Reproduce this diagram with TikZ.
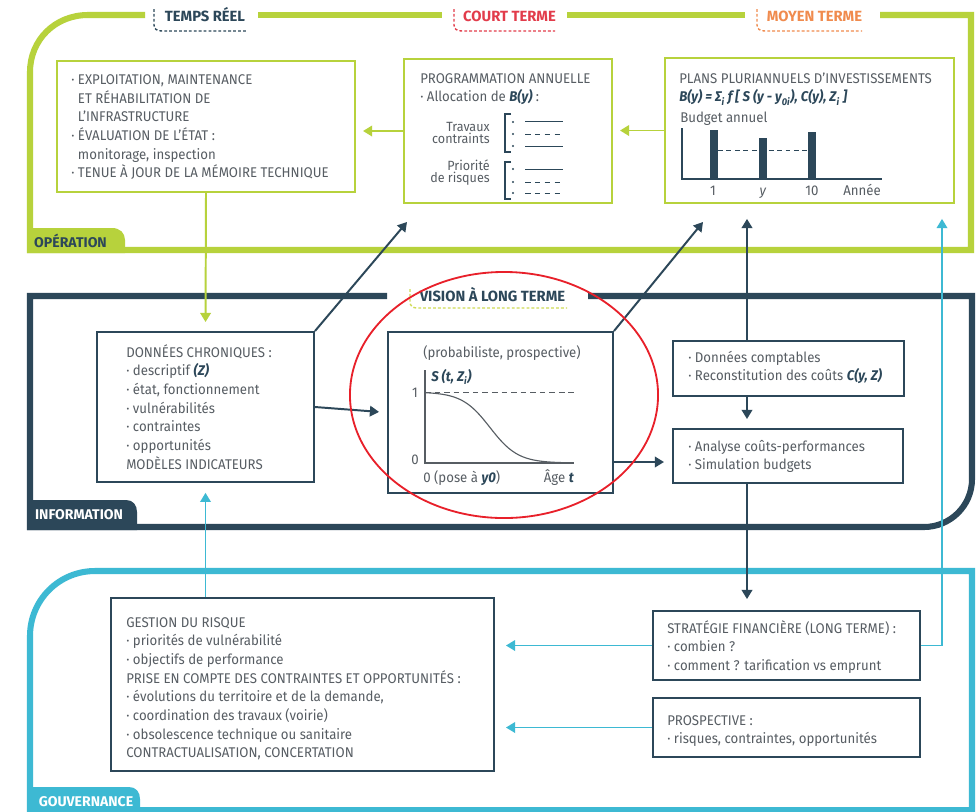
\documentclass[tikz,border=0pt]{standalone}
\usepackage{fontspec}
\setmainfont{Fira Sans}[FakeStretch=0.94]
\newfontfamily\headfam{Fira Sans}
\usetikzlibrary{arrows.meta,fit}

\definecolor{opgreen}{HTML}{B7D23C}
\definecolor{navy}{HTML}{2C4759}
\definecolor{govcyan}{HTML}{3DB9D3}
\definecolor{txtgray}{HTML}{575D63}
\definecolor{ctred}{HTML}{E23C4B}
\definecolor{mtorange}{HTML}{F08B4E}
\definecolor{lime}{HTML}{CFDB55}
\definecolor{markred}{HTML}{E8202A}

\newcommand\txtsize{\fontsize{10}{13.25}\selectfont}
\newcommand\headsize{\headfam\bfseries\fontsize{10.5}{12}\selectfont}
\newcommand\tabsize{\headfam\bfseries\fontsize{10}{12}\selectfont}
\newcommand\emv[1]{\textcolor{navy}{\bfseries\itshape #1}}

\begin{document}
\begin{tikzpicture}
	[
	x=0.025cm, y=-0.025cm,
	opline/.style={draw=opgreen, line width=4.3pt},
	infoline/.style={draw=navy, line width=4.3pt},
	govline/.style={draw=govcyan, line width=4.3pt},
	opbox/.style={draw=opgreen, line width=1.4pt, inner sep=0},
	infobox/.style={draw=navy, line width=1.4pt, inner sep=0},
	txt/.style={anchor=north west, inner sep=0, align=left, text=txtgray, font=\txtsize},
	head/.style={inner sep=0, anchor=base, font=\headsize},
	tab/.style={inner sep=0, anchor=base, font=\tabsize},
	bracket/.style={line width=1pt, dash pattern=on 2pt off 1.5pt},
	oparrow/.style={draw=opgreen, line width=1.4pt, -{Triangle[length=6.5pt,width=7.5pt]}, shorten >=5pt},
	infoarrow/.style={draw=navy, line width=1.4pt, -{Triangle[length=6.5pt,width=7.5pt]}, shorten >=5.7pt},
	govarrow/.style={draw=govcyan, line width=1.2pt, -{Triangle[length=6.5pt,width=7.5pt]}, shorten >=7.8pt}
	]
	
	\fill[white] (0,0) rectangle (979,811);
	\useasboundingbox (0,0) rectangle (979,811);
	
	% Operation frame
	\draw[opline] (145,15) -- (88,15) .. controls (55,15) and (30,40) .. (30,72) -- (30,250) -- (971,250) -- (971,15) -- (880,15);
	\draw[opline] (258,15) -- (442,15);
	\draw[opline] (567,15) -- (745,15);
	\fill[opgreen] (27,253) -- (27,228) -- (112,228) .. controls (120,228) and (125,233) .. (125,240) -- (125,253) -- cycle;
	\node[tab, text=navy](optab) at (70.5,247){OPÉRATION};
	
	\node[head, text=navy](treel) at (205,21){TEMPS RÉEL};
	\draw[bracket, navy] (154,9) -- (154,25) .. controls (154,29) and (157,31) .. (162,31) -- (247,31);
	\node[head, text=ctred](cterme) at (509.5,21){COURT TERME};
	\draw[bracket, ctred] (454,9) -- (454,25) .. controls (454,29) and (457,31) .. (462,31) -- (555,31);
	\node[head, text=mtorange](mterme) at (814.5,21){MOYEN TERME};
	\draw[bracket, mtorange] (757,9) -- (757,25) .. controls (757,29) and (760,31) .. (765,31) -- (862,31);
	
	% Operation boxes, from left to right
	\node[opbox, fit={(57,61) (355,192)}](exploit){};
	\node[txt](exploittxt) at (71,71.4){\strut· EXPLOITATION, MAINTENANCE\\\phantom{· }ET RÉHABILITATION DE\\\phantom{· }L’INFRASTRUCTURE\\· ÉVALUATION DE L’ÉTAT :\\\phantom{· }monitorage, inspection\\· TENUE À JOUR DE LA MÉMOIRE TECHNIQUE};
	
	\node[opbox, fit={(404,59) (612,203)}](progann){};
	\node[txt](progtxt) at (420,70){\strut PROGRAMMATION ANNUELLE\\· Allocation de \emv{B(y)} :};
	\node[txt, anchor=north east, align=right, font=\fontsize{9.5}{8.5}\selectfont](travaux) at (490,122){Travaux\\contraints};
	\node[txt, anchor=north east, align=right, font=\fontsize{9.5}{8.5}\selectfont](priorite) at (490,160){Priorité\\de risques};
	\draw[navy, line width=1.3pt] (511,114) -- (505,114) -- (505,152) -- (511,152);
	\draw[navy, line width=1.3pt] (511,162) -- (505,162) -- (505,199) -- (511,199);
	\foreach \y in {122,134,146,169,182,193}
		\fill[navy] (513,\y) circle (0.8pt);
	\draw[navy, line width=0.7pt] (525,121) -- (563,121) (525,146) -- (563,146) (525,169) -- (563,169);
	\draw[navy, line width=0.7pt, dash pattern=on 4pt off 3pt] (525,134) -- (563,134) (525,182) -- (563,182) (525,193) -- (563,193);
	
	\node[opbox, fit={(665,58) (954,203)}](ppi){};
	\node[txt](ppitxt) at (679,70){\strut PLANS PLURIANNUELS D’INVESTISSEMENTS\\\emv{B(y) = Σ\textsubscript{i} f [ S (y - y\textsubscript{0i}), C(y), Z\textsubscript{i} ]}};
	\node[txt, anchor=base west](budget) at (680,122){Budget annuel};
	\draw[navy, line width=0.9pt] (682,128) -- (682,179) -- (882,179);
	\fill[navy] (710,130) rectangle (718,179);
	\fill[navy] (759,138) rectangle (767,179);
	\fill[navy] (808,132) rectangle (816,179);
	\draw[navy, line width=0.7pt, dash pattern=on 3.5pt off 2.5pt] (718,150) -- (808,150);
	\node[txt, anchor=base](an1) at (713,195){1};
	\node[txt, anchor=base](any) at (763,195){\textit{y}};
	\node[txt, anchor=base](an10) at (812,195){10};
	\node[txt, anchor=base](annee) at (862,195){Année};
	
	% Information frame
	\draw[infoline] (387,296) -- (30,296) -- (30,527) -- (924,527) .. controls (950,527) and (972,506) .. (972,479) -- (972,296) -- (588,296);
	\fill[navy] (27,530) -- (27,500) -- (126,500) .. controls (133,500) and (137,505) .. (137,512) -- (137,530) -- cycle;
	\node[tab, text=white](infotab) at (79,519){INFORMATION};
	\node[head, text=navy](vlt) at (492.5,301){VISION À LONG TERME};
	\draw[bracket, lime] (410,289) -- (410,302) .. controls (410,306) and (413,308) .. (417,308) -- (567,308);
	
	% Information boxes
	\node[infobox, fit={(97,332) (314,482)}](donnees){};
	\node[txt](donneestxt) at (126,344){\strut DONNÉES CHRONIQUES :\\· descriptif \emv{(Z)}\\· état, fonctionnement\\· vulnérabilités\\· contraintes\\· opportunités\\MODÈLES INDICATEURS};
	
	\node[infobox, fit={(388,332) (613,493)}](vision){};
	\node[txt](visiontxt) at (423,344){\strut(probabiliste, prospective)};
	\node[txt, anchor=base west](surv) at (431,381){\emv{S (t, Z\textsubscript{i})}};
	\node[txt, anchor=base](vis1) at (415,397){1};
	\node[txt, anchor=base](vis0) at (415,464){0};
	\node[txt, anchor=base west](pose) at (423,482){0 (pose à \emv{y0})};
	\node[txt, anchor=base east](age) at (574,482){Âge \emv{t}};
	\draw[txtgray, line width=0.9pt] (425,370) -- (425,463) -- (574,463);
	\draw[txtgray, line width=0.7pt, dash pattern=on 4pt off 2.8pt] (425,392) -- (575,392);
	\draw[txtgray, line width=0.8pt] plot[domain=0:148, samples=60] ({425+\x},{463-71/(1+exp((\x-65)/14))});
	
	\node[infobox, fit={(673,341) (904,396)}](compta){};
	\node[txt](comptatxt) at (688,349){\strut· Données comptables\\· Reconstitution des coûts \emv{C(y, Z)}};
	\node[infobox, fit={(673,429) (903,483)}](analyse){};
	\node[txt](analysetxt) at (688,438){\strut· Analyse coûts-performances\\· Simulation budgets};
	
	% Gouvernance frame
	\draw[govline] (30,812) -- (30,636) .. controls (30,600) and (59,571) .. (95,571) -- (972,571) -- (972,812);
	\draw[govline] (30,810) -- (972,810);
	\fill[govcyan] (27,812) -- (27,787) -- (129,787) .. controls (136,787) and (140,792) .. (140,799) -- (140,812) -- cycle;
	\node[tab, text=white](govtab) at (86,806){GOUVERNANCE};
	
	% Gouvernance boxes
	\node[infobox, fit={(111,598) (494,771)}](gestion){};
	\node[txt](gestiontxt) at (126,614){\strut GESTION DU RISQUE\\· priorités de vulnérabilité\\· objectifs de performance\\PRISE EN COMPTE DES CONTRAINTES ET OPPORTUNITÉS :\\· évolutions du territoire et de la demande,\\· coordination des travaux (voirie)\\· obsolescence technique ou sanitaire\\CONTRACTUALISATION, CONCERTATION};
	\node[infobox, fit={(653,611) (920,680)}](strat){};
	\node[txt](strattxt) at (667,620){\strut STRATÉGIE FINANCIÈRE (LONG TERME) :\\· combien ?\\· comment ? tarification vs emprunt};
	\node[infobox, fit={(653,698) (920,757)}](prosp){};
	\node[txt](prosptxt) at (667,712){\strut PROSPECTIVE :\\· risques, contraintes, opportunités};
	
	% Connectors
	\coordinate (toprog) at (407,222);
	\coordinate (toppi) at (703,222);
	\coordinate (colx) at (747,0);
	\coordinate (cyx) at (942,0);
	\coordinate (rowy) at (0,462);
	
	\draw[oparrow] (ppi.west) -- (ppi.west -| progann.east);
	\draw[oparrow] (progann.west) -- (progann.west -| exploit.east);
	\draw[oparrow, shorten >=6.4pt] (exploit.south) -- (donnees.north);
	
	\draw[infoarrow] (donnees.east) -- (vision.west);
	\draw[infoarrow, shorten >=0pt] (donnees.north east) -- (toprog);
	\draw[infoarrow, shorten >=0pt] (vision.north east) -- (toppi);
	\draw[infoarrow, shorten >=10.6pt] (colx |- compta.north) -- (colx |- ppi.south);
	\draw[infoarrow, shorten >=6.4pt] (colx |- compta.south) -- (colx |- analyse.north);
	\draw[infoarrow] (vision.east |- rowy) -- (analyse.west |- rowy);
	\draw[infoarrow, shorten >=7.8pt] (colx |- analyse.south) -- (colx |- strat.north);
	
	\draw[govarrow, shorten >=10.6pt] (strat.east) -| (cyx |- ppi.south);
	\draw[govarrow] (strat.west) -- (strat.west -| gestion.east);
	\draw[govarrow] (prosp.west) -- (prosp.west -| gestion.east);
	\draw[govarrow, shorten >=7pt] (gestion.north -| donnees.south) -- (donnees.south);
	
	% Mark
	\draw[markred, line width=1.3pt] (504,395) ellipse [x radius=3.85cm, y radius=3.075cm];
\end{tikzpicture}
\end{document}
